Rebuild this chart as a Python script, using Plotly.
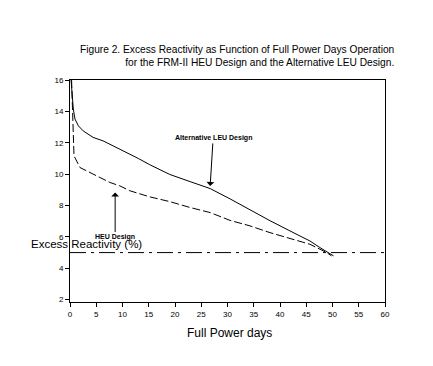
import plotly.graph_objects as go

# Alternative LEU design (solid)
leu_days = [0.2, 0.63, 0.95, 1.6, 2.5, 4.4, 6.3, 8.25, 10.8, 13.0, 15.2, 19.0, 22.9, 26.7, 30.5, 34.3, 38.1, 41.9, 45.7, 47.6, 49.5, 50.2]
leu_rho = [16.0, 14.15, 13.51, 13.08, 12.76, 12.34, 12.12, 11.8, 11.38, 11.0, 10.6, 9.98, 9.52, 9.08, 8.42, 7.7, 7.03, 6.38, 5.74, 5.32, 4.9, 4.79]

# FRM-II HEU design (dashed)
heu_days = [0.3, 0.76, 1.9, 3.8, 5.7, 7.6, 9.5, 11.4, 15.2, 19.0, 22.9, 26.7, 30.5, 34.3, 38.1, 41.9, 45.7, 48.9, 49.8]
heu_rho = [16.0, 11.17, 10.42, 10.1, 9.78, 9.47, 9.25, 8.94, 8.55, 8.25, 7.87, 7.55, 7.05, 6.7, 6.27, 5.92, 5.53, 5.0, 4.79]

# Reference level line
ref_days = [0, 60]
ref_rho = [5.0, 5.0]

x_ticks = list(range(0, 61, 5))
y_ticks = list(range(2, 17, 2))

title_text = ("Figure 2. Excess Reactivity as Function of Full Power Days Operation<br>"
              "for the FRM-II HEU Design and the Alternative LEU Design.")

fig = go.Figure()
fig.add_trace(go.Scatter(x=ref_days, y=ref_rho, mode="lines",
                         line=dict(color="black", width=1, dash="16px,5px,3px,5px"),
                         showlegend=False, hoverinfo="skip"))
fig.add_trace(go.Scatter(x=leu_days, y=leu_rho, mode="lines",
                         line=dict(color="black", width=1),
                         showlegend=False))
fig.add_trace(go.Scatter(x=heu_days, y=heu_rho, mode="lines",
                         line=dict(color="black", width=1, dash="8px,3px"),
                         showlegend=False))

font_main = "Liberation Sans, Arial, sans-serif"

fig.update_layout(
    width=425, height=358,
    margin=dict(l=62, r=48, t=72, b=64),
    paper_bgcolor="white", plot_bgcolor="white",
    font=dict(family=font_main, color="black", size=8),
    xaxis=dict(range=[0, 60], tickmode="array", tickvals=x_ticks,
               ticks="outside", ticklen=4, tickwidth=1, tickcolor="black",
               showline=True, linecolor="black", linewidth=1, mirror=True,
               showgrid=False, zeroline=False,
               tickfont=dict(size=8, family=font_main)),
    yaxis=dict(range=[1.85, 16], tickmode="array", tickvals=y_ticks,
               ticks="outside", ticklen=4, tickwidth=1, tickcolor="black",
               showline=True, linecolor="black", linewidth=1, mirror=True,
               showgrid=False, zeroline=False,
               tickfont=dict(size=8, family=font_main)),
    annotations=[
        dict(text=title_text, xref="paper", yref="paper", x=1.035, y=1.11,
             xanchor="right", yanchor="middle", align="right", showarrow=False,
             font=dict(size=10.2, family=font_main)),
        dict(text="Excess Reactivity (%)", xref="paper", yref="paper",
             x=-0.13, y=0.262, xanchor="left", yanchor="middle", showarrow=False,
             font=dict(size=11.5, family=font_main)),
        dict(text="Full Power days", xref="paper", yref="paper",
             x=0.505, y=-0.14, xanchor="center", yanchor="middle", showarrow=False,
             font=dict(size=12, family=font_main)),
        dict(text="<b>Alternative LEU Design</b>", x=26.7, y=9.25, xref="x", yref="y",
             showarrow=True, ax=3, ay=-48, arrowhead=1, arrowsize=1.3, arrowwidth=1,
             arrowcolor="black", font=dict(size=7, family=font_main)),
        dict(text="<b>HEU Design</b>", x=8.6, y=8.83, xref="x", yref="y",
             showarrow=True, ax=0, ay=45, arrowhead=1, arrowsize=1.3, arrowwidth=1,
             arrowcolor="black", font=dict(size=7, family=font_main)),
    ],
)

fig.write_html("out.html")
